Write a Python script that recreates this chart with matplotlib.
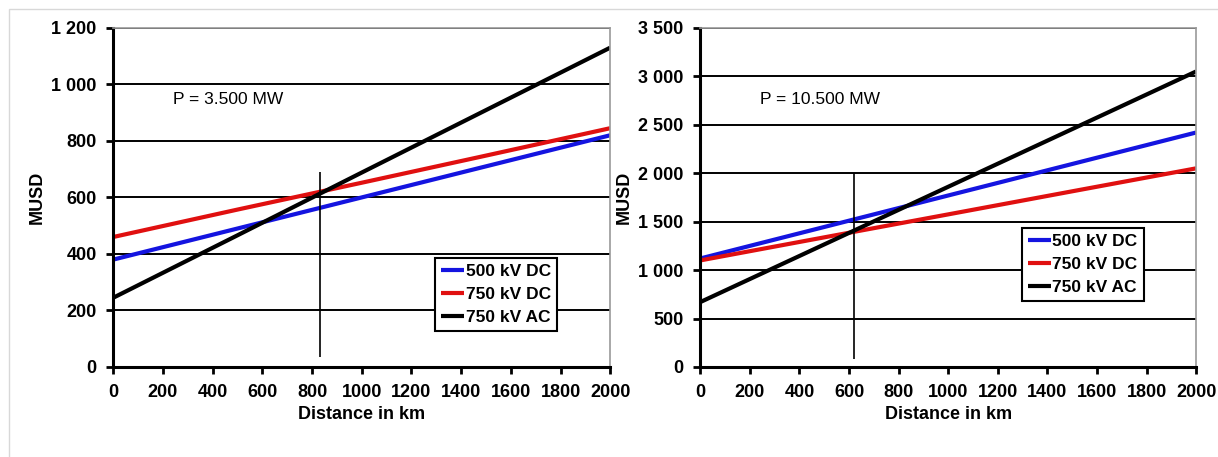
import matplotlib.pyplot as plt
from matplotlib.ticker import FuncFormatter
from matplotlib.patches import Rectangle

# donnees
dist = [0, 500, 1000, 1500, 2000]
series = ['500 kV DC', '750 kV DC', '750 kV AC']
colors = ['#1414e0', '#e01010', '#000000']

left_vals = [[380, 490, 600, 710, 820],
             [460, 557, 652, 748, 845],
             [245, 466, 688, 909, 1130]]
right_vals = [[1120, 1445, 1770, 2095, 2420],
              [1100, 1338, 1575, 1813, 2050],
              [670, 1265, 1860, 2455, 3050]]

left_title = 'P = 3.500 MW'
right_title = 'P = 10.500 MW'
left_ylim, left_step = 1200, 200
right_ylim, right_step = 3500, 500
left_vline = (830, 35, 690)
right_vline = (620, 80, 2000)

plt.rcParams['font.family'] = ['Liberation Sans Narrow', 'Liberation Sans', 'DejaVu Sans']
plt.rcParams['font.weight'] = 'bold'

fig = plt.figure(figsize=(12.18, 4.57), dpi=100)
fig.patches.append(Rectangle((0.007, -0.1), 1.1, 1.08, transform=fig.transFigure,
                             fill=False, edgecolor='#d8d8d8', lw=1))


def sep(v, pos):
    return f'{int(v):,}'.replace(',', ' ')


def panel(rect, vals, title, ymax, ystep, vline, legpos):
    ax = fig.add_axes(rect)
    for v, c, lab in zip(vals, colors, series):
        ax.plot(dist, v, color=c, lw=3, label=lab, solid_capstyle='butt')
    ax.set_xlim(0, 2000)
    ax.set_ylim(0, ymax)
    ax.set_xticks(range(0, 2001, 200))
    ax.set_yticks(range(0, ymax + 1, ystep))
    ax.yaxis.set_major_formatter(FuncFormatter(sep))
    ax.grid(axis='y', color='black', lw=1.4)
    ax.set_axisbelow(True)
    ax.vlines(vline[0], vline[1], vline[2], color='black', lw=1.2)
    ax.text(240, ymax * 0.775, title, fontsize=12.5, fontweight='normal')
    for s in ['left', 'bottom']:
        ax.spines[s].set_linewidth(2.2)
    for s in ['top', 'right']:
        ax.spines[s].set_color('#999999')
        ax.spines[s].set_linewidth(1.2)
    ax.tick_params(axis='both', direction='out', width=2, length=5, labelsize=13, pad=7)
    ax.set_xlabel('Distance in km', fontsize=13, fontweight='bold', labelpad=4)
    ax.set_ylabel('MUSD', fontsize=13, fontweight='bold', labelpad=4)
    leg = ax.legend(loc='upper left', bbox_to_anchor=legpos, fontsize=12.5,
                    frameon=True, fancybox=False, edgecolor='black', framealpha=1,
                    handlelength=1.3, handletextpad=0.1, borderpad=0.35,
                    labelspacing=0.45, borderaxespad=0)
    leg.get_frame().set_linewidth(1.5)
    return ax


panel([0.093, 0.197, 0.408, 0.742], left_vals, left_title, left_ylim, left_step,
      left_vline, (0.648, 0.322))
panel([0.575, 0.197, 0.407, 0.742], right_vals, right_title, right_ylim, right_step,
      right_vline, (0.649, 0.41))

fig.savefig('out.png', dpi=100)
